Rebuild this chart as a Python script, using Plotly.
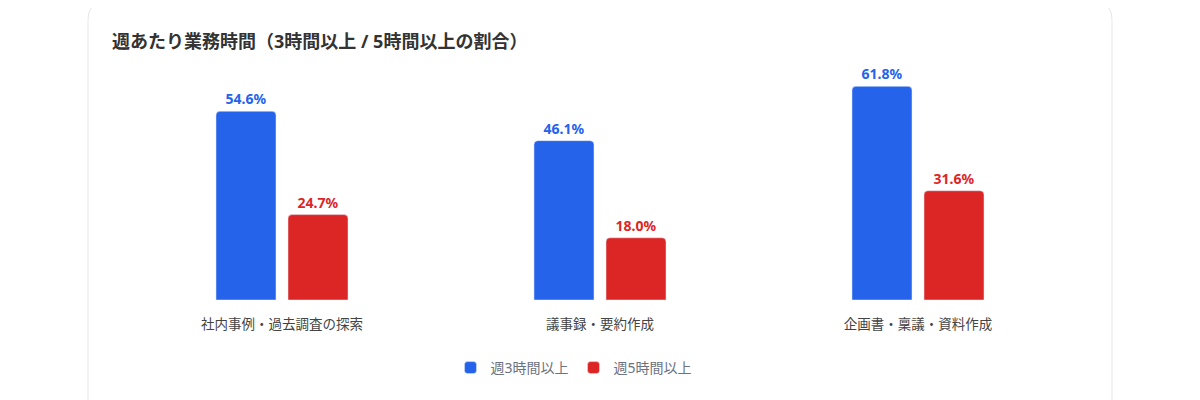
import plotly.graph_objects as go

categories = ["社内事例・過去調査の探索", "議事録・要約作成", "企画書・稟議・資料作成"]
over_3h = [54.6, 46.1, 61.8]
over_5h = [24.7, 18.0, 31.6]
series_names = ["週3時間以上", "週5時間以上"]

BLUE = "#2563eb"
RED = "#dc2626"
FONT = "Noto Sans, Noto Sans CJK JP, sans-serif"

# the page body adds an 8px offset, so pixel targets are shifted by -8
OFF = 8
W, H = 1200, 400
ML, MR, MT, MB = 123 - OFF, 123 + OFF, 58 - OFF, 100 + OFF
pw, ph = W - ML - MR, H - MT - MB


def px_x(x):
    return (x - OFF - ML) / pw


def px_y(y):
    return (H - MB - (y - OFF)) / ph


fig = go.Figure()
for name, vals, col in [(series_names[0], over_3h, BLUE), (series_names[1], over_5h, RED)]:
    fig.add_trace(go.Bar(
        x=categories,
        y=vals,
        name=name,
        marker_color=col,
        marker_cornerradius=4,
        text=[f"{v:.1f}%" for v in vals],
        textposition="outside",
        textfont=dict(color=col, size=14, family=FONT, weight="bold"),
        cliponaxis=False,
        hoverinfo="skip",
    ))

# card outline
x0, x1 = px_x(88), px_x(1112)
y0, y1 = px_y(440), px_y(3)
rx, ry = 16 / pw, 16 / ph
card = (f"M {x0},{y0} L {x0},{y1 - ry} Q {x0},{y1} {x0 + rx},{y1} "
        f"L {x1 - rx},{y1} Q {x1},{y1} {x1},{y1 - ry} L {x1},{y0}")

fig.update_layout(
    width=W,
    height=H,
    barmode="group",
    bargap=0.547,
    bargroupgap=0.167,
    plot_bgcolor="white",
    paper_bgcolor="white",
    font=dict(family=FONT, size=13, color="#444"),
    margin=dict(l=ML, r=MR, t=MT, b=MB),
    title=dict(
        text="週あたり業務時間（3時間以上 / 5時間以上の割合）",
        xref="container", yref="container",
        x=(112 - OFF) / W, y=1 - (42 - OFF) / H, xanchor="left", yanchor="middle",
        font=dict(family=FONT, size=18, color="#333", weight="bold"),
    ),
    xaxis=dict(
        showgrid=False, showline=False, zeroline=False,
        ticks="", ticklabelstandoff=14,
        tickfont=dict(size=13.5, color="#444"),
        range=[-0.5, 2.5],
    ),
    yaxis=dict(visible=False, range=[0, 70]),
    legend=dict(
        orientation="h",
        x=0.5 - 26 / pw, xanchor="center",
        y=px_y(368), yanchor="middle",
        font=dict(size=14, color="#6b7280"),
    ),
    shapes=[dict(
        type="path", path=card, xref="paper", yref="paper",
        line=dict(color="#e5e7eb", width=1), layer="below",
    )],
    showlegend=True,
)

fig.write_html("out.html")
